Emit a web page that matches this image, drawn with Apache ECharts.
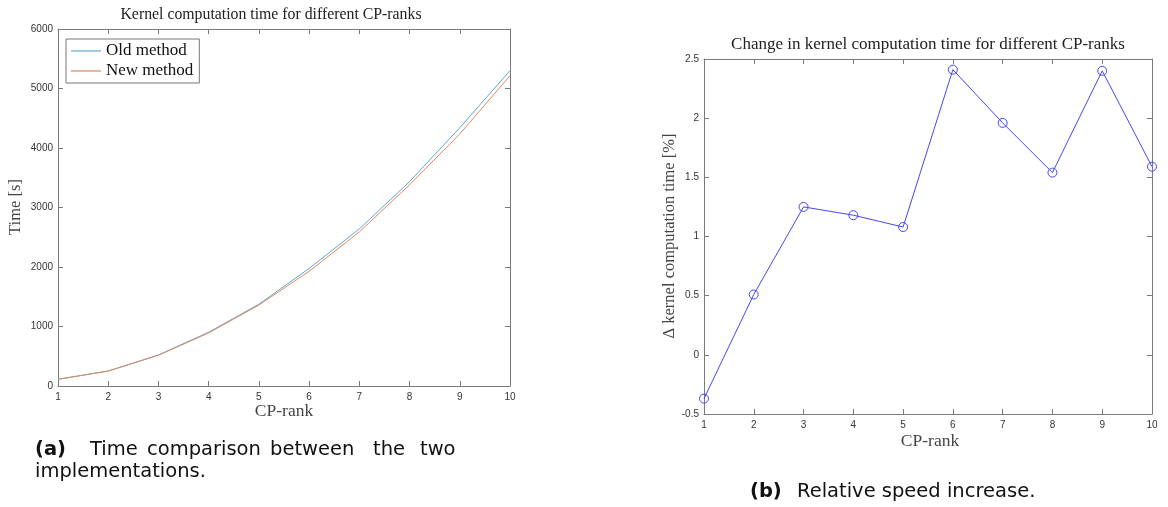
<!DOCTYPE html>
<html>
<head>
<meta charset="utf-8">
<script src="https://cdn.jsdelivr.net/npm/echarts@6/dist/echarts.min.js"></script>
<style>
html,body{margin:0;padding:0;background:#fff;}
#chart{width:1168px;height:507px;}
</style>
</head>
<body>
<div id="chart"></div>
<script>
// ---- data ----
var cpRanks = [1, 2, 3, 4, 5, 6, 7, 8, 9, 10];
var oldMethod = [113, 252, 522, 903, 1375, 1975, 2640, 3435, 4340, 5300];
var newMethod = [113, 251, 516, 892, 1360, 1928, 2590, 3382, 4236, 5216];
var deltaPct = [-0.37, 0.51, 1.25, 1.18, 1.08, 2.41, 1.96, 1.54, 2.40, 1.59];

var leftTitle = 'Kernel computation time for different CP-ranks';
var rightTitle = 'Change in kernel computation time for different CP-ranks';
var leftYLabel = 'Time [s]';
var rightYLabel = '\u0394 kernel computation time [%]';
var xLabel = 'CP-rank';
var seriesNames = ['Old method', 'New method'];

function pairs(xs, ys) { return xs.map(function (x, i) { return [x, ys[i]]; }); }

var serif = '"Liberation Serif", "DejaVu Serif", serif';
var sans = '"Liberation Sans", Arial, sans-serif';
var capSans = '"DejaVu Sans", sans-serif';
var axisCol = '#7a7a7a';
var labelCol = '#333';

function xAx(grid, pos, showLabels) {
  return {
    type: 'value', gridIndex: grid, position: pos, min: 1, max: 10, interval: 1,
    axisLine: { show: true, onZero: false, lineStyle: { color: axisCol, width: 1 } },
    axisTick: { show: true, inside: true, length: 5, lineStyle: { color: axisCol } },
    axisLabel: { show: showLabels, color: labelCol, fontFamily: sans, fontSize: 10, margin: 6 },
    splitLine: { show: false }
  };
}
function yAx(grid, pos, min, max, interval, showLabels) {
  return {
    type: 'value', gridIndex: grid, position: pos, min: min, max: max, interval: interval,
    axisLine: { show: true, onZero: false, lineStyle: { color: axisCol, width: 1 } },
    axisTick: { show: true, inside: true, length: 5, lineStyle: { color: axisCol } },
    axisLabel: { show: showLabels, color: labelCol, fontFamily: sans, fontSize: 10, margin: 5,
      formatter: function (v) { return String(v); } },
    splitLine: { show: false }
  };
}

var chart = echarts.init(document.getElementById('chart'), null, { renderer: 'canvas' });

function txt(x, y, text, font) {
  return { type: 'text', x: x, y: y, style: { text: text, font: font, fill: '#111', verticalAlign: 'middle' } };
}

var capFont = '19.5px ' + capSans;
var capBold = 'bold 19.5px ' + capSans;

var option = {
  backgroundColor: '#fff',
  animation: false,
  grid: [
    { left: 58, right: 658, top: 29, bottom: 121 },
    { left: 704, right: 16, top: 59, bottom: 93 }
  ],
  xAxis: [
    xAx(0, 'bottom', true), xAx(0, 'top', false),
    xAx(1, 'bottom', true), xAx(1, 'top', false)
  ],
  yAxis: [
    yAx(0, 'left', 0, 6000, 1000, true), yAx(0, 'right', 0, 6000, 1000, false),
    yAx(1, 'left', -0.5, 2.5, 0.5, true), yAx(1, 'right', -0.5, 2.5, 0.5, false)
  ],
  legend: {
    orient: 'vertical', left: 66, top: 39, itemGap: 2,
    icon: 'rect', itemWidth: 30, itemHeight: 1.5,
    borderColor: '#777', borderWidth: 1, padding: [3, 6, 3, 5],
    backgroundColor: '#fff',
    textStyle: { fontFamily: serif, fontSize: 17, color: '#111', lineHeight: 18 },
    data: seriesNames
  },
  series: [
    {
      name: seriesNames[0], type: 'line', xAxisIndex: 0, yAxisIndex: 0,
      data: pairs(cpRanks, oldMethod), symbol: 'none', smooth: false,
      lineStyle: { color: '#5aa7d3', width: 1 }, itemStyle: { color: '#7cbcd8' }
    },
    {
      name: seriesNames[1], type: 'line', xAxisIndex: 0, yAxisIndex: 0,
      data: pairs(cpRanks, newMethod), symbol: 'none', smooth: false,
      lineStyle: { color: '#e0895c', width: 1 }, itemStyle: { color: '#e3a07e' }
    },
    {
      name: 'delta', type: 'line', xAxisIndex: 2, yAxisIndex: 2,
      data: pairs(cpRanks, deltaPct), symbol: 'circle', symbolSize: 9,
      lineStyle: { color: '#4747f5', width: 1 },
      itemStyle: { color: 'rgba(255,255,255,0)', borderColor: '#4747f5', borderWidth: 1 }
    }
  ],
  graphic: [
    { type: 'text', x: 271, y: 15, style: { text: leftTitle, font: '15.8px ' + serif, fill: '#222', align: 'center', verticalAlign: 'middle' } },
    { type: 'text', x: 928, y: 45, style: { text: rightTitle, font: '17px ' + serif, fill: '#222', align: 'center', verticalAlign: 'middle' } },
    { type: 'text', x: 284, y: 411, style: { text: xLabel, font: '17.5px ' + serif, fill: '#444', align: 'center', verticalAlign: 'middle' } },
    { type: 'text', x: 930, y: 441, style: { text: xLabel, font: '17.5px ' + serif, fill: '#444', align: 'center', verticalAlign: 'middle' } },
    { type: 'text', x: 16, y: 207, rotation: Math.PI / 2, style: { text: leftYLabel, font: '16.5px ' + serif, fill: '#444', align: 'center', verticalAlign: 'middle' } },
    { type: 'text', x: 670, y: 236, rotation: Math.PI / 2, style: { text: rightYLabel, font: '16.5px ' + serif, fill: '#444', align: 'center', verticalAlign: 'middle' } },
    // captions
    txt(35, 450, '(a)', capBold),
    txt(90, 450, 'Time', capFont),
    txt(147, 450, 'comparison', capFont),
    txt(270, 450, 'between', capFont),
    txt(373, 450, 'the', capFont),
    txt(420, 450, 'two', capFont),
    txt(35, 472, 'implementations.', capFont),
    txt(750, 492, '(b)', capBold),
    txt(797, 492, 'Relative speed increase.', capFont)
  ]
};
chart.setOption(option);
</script>
</body>
</html>
